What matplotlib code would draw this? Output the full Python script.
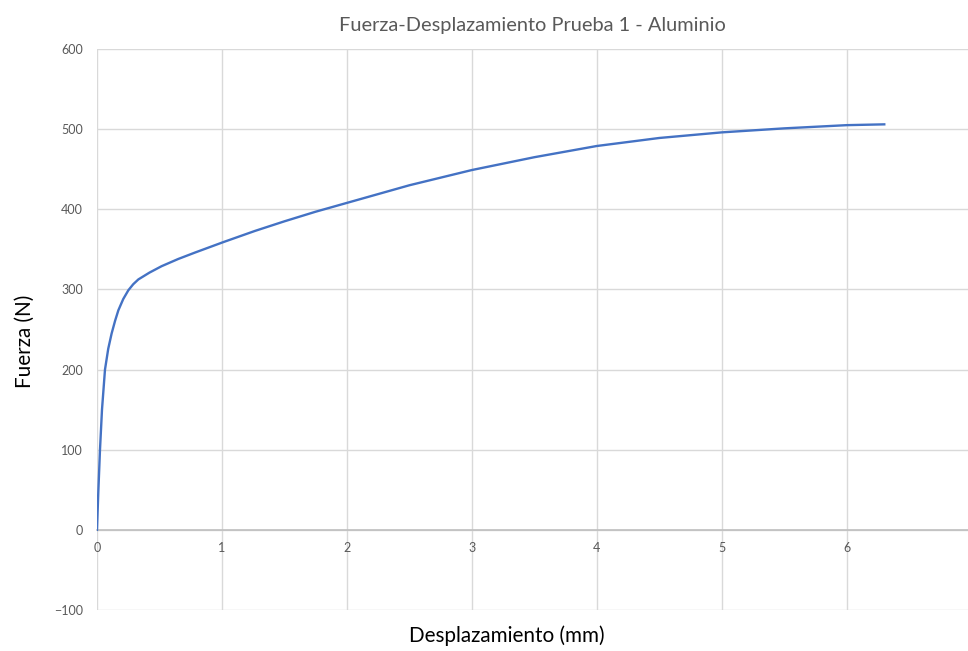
import matplotlib
matplotlib.use("Agg")
from matplotlib import pyplot as plt

# Fuerza-Desplazamiento, prueba 1 (aluminio)
desplazamiento = [0, 0.01, 0.024, 0.04, 0.064, 0.09, 0.117, 0.145, 0.171, 0.21,
                  0.251, 0.29, 0.331, 0.42, 0.517, 0.65, 0.784, 1.01, 1.264, 1.5,
                  1.75, 2.0, 2.5, 3.0, 3.5, 4.0, 4.5, 5.0, 5.5, 6.0, 6.3]
fuerza = [0, 45, 100, 150, 200, 226, 245, 261, 274, 288,
          299, 306.5, 312.5, 321, 329, 338, 346, 359, 373, 385,
          397, 408, 430, 449, 465, 479, 489, 496, 501, 505, 506]
x_ticks = [0, 1, 2, 3, 4, 5, 6]
y_ticks = [-100, 0, 100, 200, 300, 400, 500, 600]

plt.rcParams['font.family'] = ['Lato', 'DejaVu Sans']

fig = plt.figure(figsize=(9.68, 6.51), dpi=100)
ax = fig.add_axes([0.1002, 0.063, 0.8998, 0.8617])

ax.plot(desplazamiento, fuerza, color='#4472C4', linewidth=1.7, zorder=3,
        solid_joinstyle='round')

ax.set_xlim(0, 6.97)
ax.set_ylim(-100, 600)
ax.set_xticks(x_ticks)
ax.set_yticks(y_ticks)
ax.grid(True, color='#D9D9D9', linewidth=1.0)
ax.set_axisbelow(True)

for s in ['top', 'right', 'left']:
    ax.spines[s].set_visible(False)
ax.spines['bottom'].set_position(('data', 0))
ax.spines['bottom'].set_color('#BFBFBF')
ax.spines['bottom'].set_linewidth(1.2)

ax.tick_params(length=0, labelsize=9, labelcolor='#595959')
ax.tick_params(axis='x', pad=9)
ax.tick_params(axis='y', pad=10)

ax.set_title('Fuerza-Desplazamiento Prueba 1 - Aluminio', fontsize=14.4,
             color='#595959', pad=13)
fig.text(0.026, 0.476, 'Fuerza (N)', rotation=90, fontsize=14.9,
         ha='center', va='center', color='black')
fig.text(0.523, 0.023, 'Desplazamiento (mm)', fontsize=14.9,
         ha='center', va='center', color='black')

fig.savefig('out.png', dpi=100)
